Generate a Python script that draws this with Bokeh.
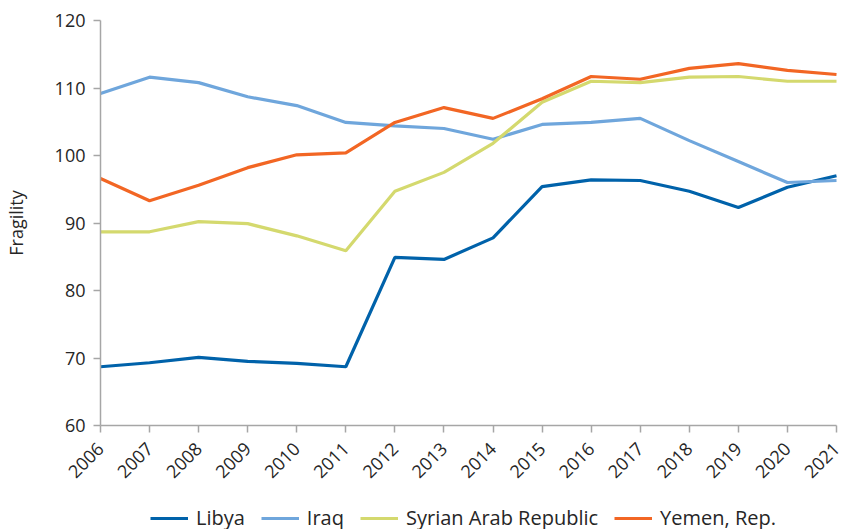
import numpy as np
from bokeh.plotting import figure
from bokeh.models import Range1d, Legend, LegendItem, FixedTicker
from bokeh.embed import file_html
from bokeh.resources import INLINE

years = list(range(2006, 2022))
libya = [68.7, 69.3, 70.1, 69.5, 69.2, 68.7, 84.9, 84.6, 87.8, 95.4, 96.4, 96.3, 94.7, 92.3, 95.3, 97.0]
iraq = [109.2, 111.6, 110.8, 108.7, 107.4, 104.9, 104.4, 104.0, 102.4, 104.6, 104.9, 105.5, 102.2, 99.1, 96.0, 96.3]
syria = [88.7, 88.7, 90.2, 89.9, 88.1, 85.9, 94.7, 97.5, 101.8, 107.9, 111.0, 110.8, 111.6, 111.7, 111.0, 111.0]
yemen = [96.6, 93.3, 95.6, 98.2, 100.1, 100.4, 104.9, 107.1, 105.5, 108.4, 111.7, 111.3, 112.9, 113.6, 112.6, 112.0]
y_ticks = [60, 70, 80, 90, 100, 110, 120]

series = [
    ("Libya", libya, "#0062AA"),
    ("Iraq", iraq, "#6FA6DC"),
    ("Syrian Arab Republic", syria, "#D4D96E"),
    ("Yemen, Rep.", yemen, "#F26624"),
]

FONT = "Open Sans"
W, H = 841, 529
# pixel positions of the axes inside the figure
TOP, AXIS_Y = 20, 425      # rows of y=120 and y=60
LEFT, RIGHT = 100, 836     # columns of x=2006 and x=2021
xmin, xmax = years[0], years[-1]
ymin, ymax = 60, 120
# the frame fills the whole figure; axes are drawn at fixed data positions
px_per_x = (RIGHT - LEFT) / (xmax - xmin)
px_per_y = (AXIS_Y - TOP) / (ymax - ymin)
x_start = xmin - LEFT / px_per_x
x_end = xmax + (W - RIGHT) / px_per_x
y_start = ymin - (H - AXIS_Y) / px_per_y
y_end = ymax + TOP / px_per_y

p = figure(width=W, height=H, output_backend="svg", toolbar_location=None,
           x_range=Range1d(x_start, x_end), y_range=Range1d(y_start, y_end))
p.min_border_left = 0
p.min_border_right = 0
p.min_border_top = 0
p.min_border_bottom = 0
p.outline_line_color = None
p.xgrid.grid_line_color = None
p.ygrid.grid_line_color = None

items = []
for name, vals, col in series:
    r = p.line(years, vals, line_color=col, line_width=3.2)
    items.append(LegendItem(label=name, renderers=[r]))

p.xaxis.ticker = FixedTicker(ticks=years)
p.yaxis.ticker = FixedTicker(ticks=y_ticks)
p.yaxis.bounds = (ymin, ymax)
p.xaxis.bounds = (xmin, xmax)
p.xaxis.fixed_location = ymin
p.yaxis.fixed_location = xmin
p.xaxis.major_label_orientation = np.pi / 4
for ax in (p.xaxis, p.yaxis):
    ax.axis_line_color = "#A6A6A6"
    ax.axis_line_width = 1.5
    ax.major_tick_line_color = "#A6A6A6"
    ax.major_tick_line_width = 1.5
    ax.major_tick_in = 0
    ax.major_tick_out = 7
    ax.minor_tick_line_color = None
    ax.major_label_text_font = FONT
    ax.major_label_text_font_size = "18px"
    ax.major_label_text_color = "#262626"
p.xaxis.major_label_standoff = 13
p.yaxis.major_label_standoff = 8
p.yaxis.axis_label = "Fragility"
p.yaxis.axis_label_text_font = FONT
p.yaxis.axis_label_text_font_size = "18px"
p.yaxis.axis_label_text_font_style = "normal"
p.yaxis.axis_label_text_color = "#262626"
p.yaxis.axis_label_standoff = 24

legend = Legend(items=items, orientation="horizontal", location=(150, -2))
legend.label_text_font = FONT
legend.label_text_font_size = "20px"
legend.label_text_color = "#262626"
legend.glyph_width = 38
legend.glyph_height = 16
legend.label_standoff = 8
legend.spacing = 16
legend.padding = 2
legend.margin = 0
legend.border_line_color = None
legend.background_fill_alpha = 0
p.add_layout(legend, "center")

open("out.html", "w").write(file_html(p, INLINE))
